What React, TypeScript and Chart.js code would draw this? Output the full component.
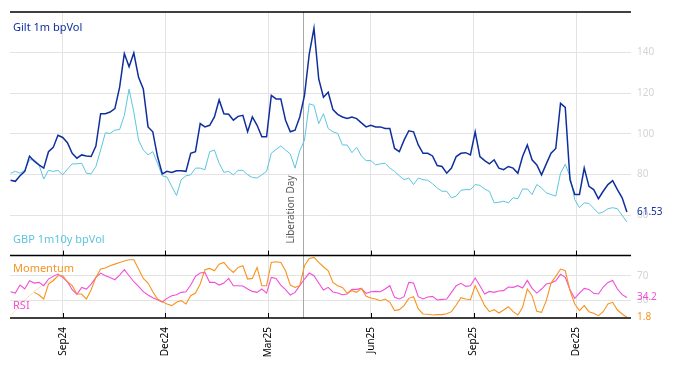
import React, { useEffect, useRef } from "react";
import { Chart, registerables } from "chart.js";

Chart.register(...registerables);

// x positions are business-day indices from the first observation; one sample every STEP business days
const STEP = 3;
const tickDays = [33, 98, 163, 228, 293, 358];
const tickLabels = ["Sep24", "Dec24", "Mar25", "Jun25", "Sep25", "Dec25"];
const liberationDay = 185;

const giltVol = [
  77.1, 76.6, 79.3, 81.5, 89, 86.5, 84.7, 83.1, 91.2, 93.3,
  99.3, 98.2, 95.6, 90.4, 88.0, 89.6, 89.1, 88.8, 94.0, 109.9,
  109.9, 110.7, 112.4, 122.9, 139.5, 133, 139.8, 127.8, 122.1, 103.4,
  101.0, 88.8, 80.3, 81.5, 81.0, 81.8, 81.8, 81.5, 90.4, 91.2,
  105.0, 103.4, 104.2, 108.3, 116.7, 109.9, 109.6, 106.7, 108.6, 109.1,
  101.0, 108.3, 104.2, 98.5, 98.5, 118.9, 117.2, 117.2, 106.7, 101.0,
  101.8, 108.3, 118.9, 139.2, 152, 127.0, 118.0, 120.5, 111.9, 109.6,
  108.3, 107.5, 108.3, 107.5, 105.4, 103.4, 104.2, 103.4, 103.4, 102.6,
  102.6, 92.8, 91.2, 96.9, 101.5, 101.0, 94.5, 90.4, 90.4, 89.1,
  84.4, 83.9, 80.6, 83.1, 88.8, 90.4, 90.7, 89.6, 101.0, 88.8,
  86.8, 85.2, 87.2, 83.1, 82.3, 83.9, 83.1, 80.6, 88.8, 94.5,
  87.2, 84.7, 79.8, 85.2, 90.4, 92.8, 115, 113, 77.4, 70.1,
  70.1, 83.1, 74.1, 72.5, 68.0, 71.7, 75.0, 76.9, 72.5, 68.5,
  61.53,
];

const gbpVol = [
  80.6, 81.5, 80.6, 82.0, 87.2, 87.2, 84.7, 77.7, 82.0, 81.5,
  82.0, 79.8, 82.6, 85.2, 85.2, 85.5, 80.6, 80.3, 83.9, 92.0,
  100.5, 100.2, 101.8, 102.1, 109.1, 122, 110.7, 96.9, 92.0, 89.6,
  91.2, 85.5, 79.3, 78.7, 74.1, 69.6, 77.4, 79.3, 79.8, 83.1,
  83.1, 82.3, 91.2, 92.0, 85.5, 81.0, 81.5, 79.8, 82.0, 82.0,
  79.8, 78.5, 78.2, 79.8, 81.5, 90.4, 92.3, 94.0, 92.0, 90.1,
  83.1, 91.7, 96.9, 114.8, 114.0, 105.0, 109.9, 102.6, 101.0, 100.2,
  94.5, 94.5, 90.7, 93.3, 89.1, 86.8, 86.8, 84.7, 85.2, 85.5,
  83.1, 81.5, 79.3, 77.4, 78.2, 75.0, 78.2, 77.4, 77.1, 75.4,
  73.3, 71.7, 71.7, 68.5, 69.3, 72.2, 72.5, 72.5, 75.0, 74.6,
  72.8, 71.7, 66.0, 66.3, 66.8, 66.0, 68.5, 68.0, 72.8, 72.8,
  70.1, 75.0, 73.3, 70.9, 70.1, 69.3, 80.6, 85.0, 79.0, 67.6,
  63.6, 66.0, 65.7, 63.3, 60.8, 61.5, 63.1, 63.6, 63.1, 59.8,
  56.6,
];

const momentum = [
  null, null, null, null, null, 42.6, 38.3, 31.7, 56.3, 61.7,
  70.0, 70.0, 60.1, 53.6, 39.9, 39.9, 31.7, 47.0, 67.2, 80.9,
  82.5, 86.3, 89.0, 91.8, 94.0, 96.2, 96.2, 80.9, 65.6, 57.9,
  43.7, 31.7, 27.4, 23.5, 20.8, 26.3, 29.0, 23.5, 37.2, 41.5,
  56.3, 80.0, 82.0, 78.1, 89.0, 91.8, 82.0, 75.4, 83.6, 86.3,
  64.5, 65.6, 83.6, 53.6, 53.6, 91.8, 92.9, 91.8, 78.1, 54.6,
  50.8, 53.6, 86.3, 98.4, 100.0, 91.8, 84.7, 78.1, 59.0, 53.6,
  50.8, 41.5, 45.4, 42.6, 49.2, 36.1, 33.3, 31.7, 29.0, 31.7,
  26.3, 12.6, 14.2, 20.8, 32.8, 35.5, 15.3, 7.1, 6.6, 5.5,
  6.0, 6.0, 7.6, 10.9, 21.9, 33.9, 31.7, 30.6, 53.6, 37.2,
  20.8, 10.9, 14.2, 8.7, 13.6, 19.0, 10.9, 5.5, 18.0, 48.1,
  37.2, 11.4, 9.8, 29.0, 57.9, 68.9, 80.9, 78.1, 45.4, 23.5,
  12.6, 20.8, 10.9, 8.2, 4.4, 10.9, 23.5, 26.3, 13.6, 7.1,
  1.8,
];

// faint warm-up segment of the momentum line at the start of the window
const momentumWarmup = [4, 13, 22, 30, 37, 44, 50, 55, 60, 64, 68];

const rsi = [
  43.7, 41.5, 54.6, 48.1, 61.7, 57.9, 59.0, 53.6, 64.5, 68.9,
  72.7, 67.2, 60.1, 47.0, 39.3, 50.8, 48.1, 56.3, 67.2, 74.3,
  69.9, 67.2, 63.4, 71.0, 79.8, 69.9, 60.1, 52.5, 43.7, 38.3,
  33.9, 30.6, 26.8, 32.8, 37.2, 38.8, 42.6, 43.7, 54.6, 68.9,
  74.3, 75.4, 59.0, 59.0, 54.6, 57.9, 65.6, 53.6, 53.6, 53.0,
  48.1, 44.2, 42.6, 48.1, 41.5, 67.2, 65.6, 54.6, 47.0, 38.3,
  42.6, 53.6, 64.5, 74.3, 69.9, 57.9, 46.4, 50.8, 43.2, 41.5,
  38.8, 39.9, 47.5, 47.5, 49.2, 41.0, 43.7, 44.2, 43.7, 48.1,
  53.6, 34.4, 31.7, 35.5, 59.0, 57.9, 35.5, 31.7, 35.0, 36.1,
  30.1, 31.1, 31.7, 42.6, 53.6, 57.4, 52.5, 53.6, 66.1, 53.6,
  39.9, 44.2, 42.6, 44.8, 45.4, 51.4, 50.8, 53.6, 49.7, 62.3,
  49.2, 41.5, 48.1, 56.3, 57.9, 61.7, 72.2, 67.2, 47.0, 32.8,
  41.5, 49.2, 47.5, 41.0, 39.9, 51.4, 59.0, 62.3, 48.1, 38.8,
  34.2,
];

const volTicks = [60, 80, 100, 120, 140];
const oscTicks = [30, 70];

const C_GILT = "#0f2f9e";
const C_GBP = "#5cc5df";
const C_MOM = "#f7931e";
const C_RSI = "#f04fd6";
const C_TICK = "#d4d4d4";
const FONT = "'Noto Sans', sans-serif";

const toXY = (arr: (number | null)[]) => arr.map((v, i) => ({ x: i * STEP, y: v }));

export default function App() {
  const ref = useRef<HTMLCanvasElement>(null);

  useEffect(() => {
    if (!ref.current) return;

    const overlay = {
      id: "overlay",
      beforeDatasetsDraw(chart: any) {
        const { ctx, chartArea, scales } = chart;
        const x = Math.round(scales.x.getPixelForValue(liberationDay)) + 0.5;
        ctx.save();
        ctx.strokeStyle = "#a8a8a8";
        ctx.lineWidth = 1;
        ctx.beginPath();
        ctx.moveTo(x, chartArea.top);
        ctx.lineTo(x, chartArea.bottom);
        ctx.stroke();
        ctx.restore();
      },
      afterDraw(chart: any) {
        const { ctx, chartArea, scales } = chart;
        const { left, right } = chartArea;
        const yTop = scales.yTop;
        const yBot = scales.yBot;
        ctx.save();
        // panel borders
        ctx.strokeStyle = "#000";
        ctx.lineWidth = 1.5;
        [yTop.top, yTop.bottom, yBot.bottom].forEach((y: number) => {
          ctx.beginPath();
          ctx.moveTo(left, y);
          ctx.lineTo(right, y);
          ctx.stroke();
        });
        // inner tick marks
        ctx.lineWidth = 1;
        tickDays.forEach((d) => {
          const x = Math.round(scales.x.getPixelForValue(d)) + 0.5;
          [yTop.bottom, yBot.bottom].forEach((y: number) => {
            ctx.beginPath();
            ctx.moveTo(x, y - 5);
            ctx.lineTo(x, y);
            ctx.stroke();
          });
        });
        // series names
        ctx.textAlign = "left";
        ctx.textBaseline = "middle";
        ctx.font = `11px ${FONT}`;
        ctx.fillStyle = C_GILT;
        ctx.fillText("Gilt 1m bpVol", left + 3, yTop.top + 16);
        ctx.fillStyle = C_GBP;
        ctx.fillText("GBP 1m10y bpVol", left + 3, yTop.bottom - 16);
        ctx.fillStyle = C_MOM;
        ctx.fillText("Momentum", left + 3, yBot.top + 13);
        ctx.fillStyle = C_RSI;
        ctx.fillText("RSI", left + 3, yBot.bottom - 12);
        // event label
        const lx = scales.x.getPixelForValue(liberationDay) - 12;
        ctx.save();
        ctx.translate(lx, yTop.bottom - 12);
        ctx.rotate(-Math.PI / 2);
        ctx.font = `10px ${FONT}`;
        ctx.fillStyle = "#595959";
        ctx.textAlign = "left";
        ctx.fillText("Liberation Day", 0, 0);
        ctx.restore();
        // last values
        ctx.font = `10px ${FONT}`;
        const lx2 = right + 6;
        ctx.fillStyle = C_GILT;
        ctx.fillText(String(giltVol[giltVol.length - 1]), lx2, yTop.getPixelForValue(giltVol[giltVol.length - 1]));
        ctx.fillStyle = C_RSI;
        ctx.fillText(String(rsi[rsi.length - 1]), lx2, yBot.getPixelForValue(rsi[rsi.length - 1]));
        ctx.fillStyle = C_MOM;
        const lastMom = momentum[momentum.length - 1] as number;
        ctx.fillText(String(lastMom), lx2, yBot.getPixelForValue(lastMom));
        ctx.restore();
      },
    };

    const chart = new Chart(ref.current, {
      type: "line",
      data: {
        datasets: [
          { label: "Gilt 1m bpVol", data: toXY(giltVol), yAxisID: "yTop", borderColor: C_GILT, borderWidth: 1.5 },
          { label: "GBP 1m10y bpVol", data: toXY(gbpVol), yAxisID: "yTop", borderColor: C_GBP, borderWidth: 1 },
          { label: "Momentum", data: toXY(momentum), yAxisID: "yBot", borderColor: C_MOM, borderWidth: 1.1 },
          { label: "RSI", data: toXY(rsi), yAxisID: "yBot", borderColor: C_RSI, borderWidth: 1.1 },
          { label: "Momentum warm-up", data: toXY(momentumWarmup), yAxisID: "yBot", borderColor: "rgba(247,147,30,0.3)", borderWidth: 1 },
        ] as any,
      },
      options: {
        animation: false,
        responsive: false,
        maintainAspectRatio: false,
        parsing: false as any,
        layout: { padding: { left: 10, top: 9, right: 0, bottom: 0 } },
        plugins: { legend: { display: false }, tooltip: { enabled: false } },
        elements: { point: { radius: 0 }, line: { tension: 0 } },
        scales: {
          x: {
            type: "linear",
            position: "bottom",
            min: -0.35,
            max: 392.6,
            afterBuildTicks: (s: any) => {
              s.ticks = tickDays.map((v) => ({ value: v }));
            },
            afterFit: (s: any) => {
              s.height = 48;
            },
            ticks: {
              autoSkip: false,
              maxRotation: 90,
              minRotation: 90,
              padding: 9,
              color: "#000",
              font: { family: FONT, size: 10 },
              callback: (v: any) => {
                const i = tickDays.indexOf(Number(v));
                return i >= 0 ? tickLabels[i] : "";
              },
            },
            grid: { color: "#e3e3e3", drawTicks: false },
            border: { display: false },
          },
          yTop: {
            type: "linear",
            position: "right",
            stack: "panels",
            stackWeight: 246,
            min: 40,
            max: 160,
            afterBuildTicks: (s: any) => {
              s.ticks = volTicks.map((v) => ({ value: v }));
            },
            afterFit: (s: any) => {
              s.width = 43;
            },
            ticks: { color: C_TICK, padding: 6, font: { family: FONT, size: 10 } },
            grid: { color: "#e3e3e3", drawTicks: false },
            border: { display: false },
          },
          yBot: {
            type: "linear",
            position: "right",
            stack: "panels",
            stackWeight: 63,
            min: 0.5,
            max: 103,
            afterBuildTicks: (s: any) => {
              s.ticks = oscTicks.map((v) => ({ value: v }));
            },
            afterFit: (s: any) => {
              s.width = 43;
            },
            ticks: { color: C_TICK, padding: 6, font: { family: FONT, size: 10 } },
            grid: { color: "#e3e3e3", drawTicks: false },
            border: { display: false },
          },
        } as any,
      },
      plugins: [overlay],
    });

    return () => chart.destroy();
  }, []);

  return (
    <div style={{ position: "fixed", left: 0, top: 0, width: 674, height: 366, background: "#fff" }}>
      <canvas ref={ref} width={674} height={366} style={{ display: "block" }} />
    </div>
  );
}
